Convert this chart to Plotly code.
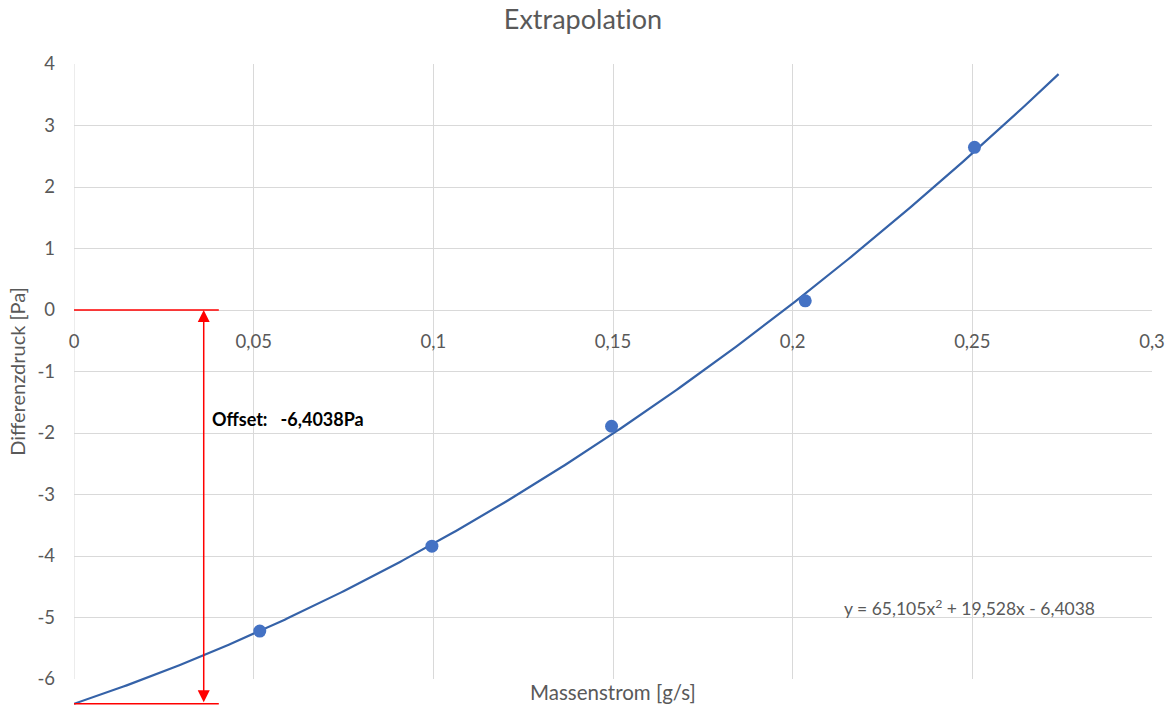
import numpy as np
import plotly.graph_objects as go

# Measured points
massenstrom = [0.0517, 0.0996, 0.1496, 0.2035, 0.2506]
differenzdruck = [-5.22, -3.84, -1.89, 0.15, 2.645]

# Polynomial trend line (2nd order) as given by the fit equation
trend_coeffs = [65.105, 19.528, -6.4038]
trend_x_max = 0.274
offset_value = -6.4038

x_tick_vals = [0, 0.05, 0.1, 0.15, 0.2, 0.25, 0.3]
x_tick_text = ["0", "0,05", "0,1", "0,15", "0,2", "0,25", "0,3"]
y_tick_vals = [4, 3, 2, 1, 0, -1, -2, -3, -4, -5, -6]
y_tick_text = ["4", "3", "2", "1", "0", "-1", "-2", "-3", "-4", "-5", "-6"]

W, H = 1169, 708
M_L, M_R, M_T, M_B = 74, 17, 64, 0
plot_h = H - M_T - M_B
grid_bottom_px = 679          # pixel row of the -6 grid line
curve_bottom_px = 706         # lower edge of the extended drawing area
y_lo, y_hi = -6, 4
px_per_unit = (grid_bottom_px - M_T) / (y_hi - y_lo)


def frac(px):
    return 1 - (px - M_T) / plot_h


main_dom = [frac(grid_bottom_px), 1.0]
ext_dom = [frac(curve_bottom_px), 1.0]
ext_lo = y_lo - (curve_bottom_px - grid_bottom_px) / px_per_unit
zero_pos = frac(M_T + (y_hi - 0) * px_per_unit)

FONT = "Lato"
GRAY = "#595959"
GRID = "#d9d9d9"
RED = "#ff0000"

tx = np.linspace(0, trend_x_max, 300)
ty = np.polyval(trend_coeffs, tx)

fig = go.Figure()

fig.add_trace(go.Scatter(
    x=tx, y=ty, mode="lines", xaxis="x2", yaxis="y2",
    line=dict(color="#3562a8", width=2.2), showlegend=False, hoverinfo="skip",
))
fig.add_trace(go.Scatter(
    x=massenstrom, y=differenzdruck, mode="markers", xaxis="x2", yaxis="y2",
    marker=dict(color="#4472c4", size=13), showlegend=False, cliponaxis=False,
))

arrow_x = 0.0361
bracket_x = 0.0403

# horizontal red markers at 0 and at the offset
for yv in (0, offset_value):
    fig.add_shape(type="line", xref="x2", yref="y2", x0=0, x1=bracket_x,
                  y0=yv, y1=yv, line=dict(color=RED, width=1.5))

fig.add_annotation(
    x=arrow_x, y=0, ax=arrow_x, ay=offset_value,
    xref="x2", yref="y2", axref="x2", ayref="y2",
    text="", showarrow=True, arrowside="end+start",
    arrowhead=2, startarrowhead=2, arrowsize=1.6, startarrowsize=1.6,
    arrowwidth=1.5, arrowcolor=RED, standoff=0, startstandoff=0,
)

fig.add_annotation(
    x=0.0378, y=-1.77, xref="x2", yref="y2", xanchor="left", yanchor="middle",
    text="<b>Offset:   " + "-6,4038" + "Pa</b>", showarrow=False,
    font=dict(family=FONT, size=18, color="#000000"),
)

fig.add_annotation(
    x=0.2493, y=-4.83, xref="x2", yref="y2", xanchor="center", yanchor="middle",
    text="y = 65,105x<sup>2</sup> + 19,528x - 6,4038", showarrow=False,
    font=dict(family=FONT, size=17.5, color=GRAY),
)

fig.add_annotation(
    x=0.5, y=frac(692),
    xref="paper", yref="paper", xanchor="center", yanchor="middle",
    text="Massenstrom [g/s]", showarrow=False,
    font=dict(family=FONT, size=20.5, color=GRAY),
)

fig.update_layout(
    width=W, height=H,
    margin=dict(l=M_L, r=M_R, t=M_T, b=M_B, pad=0, autoexpand=False),
    paper_bgcolor="white", plot_bgcolor="rgba(0,0,0,0)",
    font=dict(family=FONT, color=GRAY),
    # zero-width non-joiner keeps "t" and "i" as separate glyphs
    title=dict(text="Extrapolat\u200cion", x=583 / W, xanchor="center",
               y=1 - 20 / H, yanchor="middle",
               font=dict(family=FONT, size=27, color=GRAY)),
    xaxis=dict(
        range=[0, 0.3], domain=[0, 1], anchor="free", position=zero_pos,
        tickvals=x_tick_vals, ticktext=x_tick_text,
        showgrid=True, gridcolor=GRID, gridwidth=1,
        zeroline=False, showline=False, ticks="", automargin=False,
        ticklabelstandoff=18,
        tickfont=dict(family=FONT, size=18.5, color=GRAY),
    ),
    yaxis=dict(
        range=[y_lo, y_hi], domain=main_dom, anchor="x",
        tickvals=y_tick_vals, ticktext=y_tick_text,
        showgrid=True, gridcolor=GRID, gridwidth=1,
        zeroline=True, zerolinecolor=GRID, zerolinewidth=1,
        showline=False, ticks="", ticklabelstandoff=18, automargin=False,
        tickfont=dict(family=FONT, size=18.5, color=GRAY),
        title=dict(text="Differenzdruck [Pa]", standoff=6,
                   font=dict(family=FONT, size=20, color=GRAY)),
    ),
    xaxis2=dict(range=[0, 0.3], domain=[0, 1], anchor="y2", visible=False),
    yaxis2=dict(range=[ext_lo, y_hi], domain=ext_dom, anchor="x2", visible=False),
)

# vertical grid line at x = 0 (left edge)
fig.add_shape(type="line", xref="x", yref="y", x0=0, x1=0, y0=y_lo, y1=y_hi,
              line=dict(color=GRID, width=1), layer="below")

fig.write_html("out.html")
